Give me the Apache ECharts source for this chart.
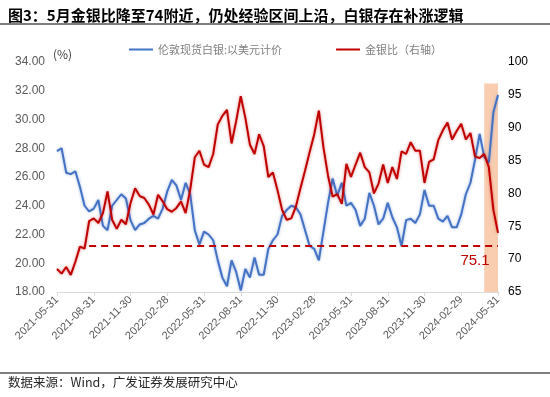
<!DOCTYPE html>
<html>
<head>
<meta charset="utf-8">
<script src="https://cdn.jsdelivr.net/npm/echarts@6/dist/echarts.min.js"></script>
<style>
  html, body { margin: 0; padding: 0; background: #fff; }
  #main { width: 550px; height: 397px; }
</style>
</head>
<body>
<div id="main"></div>
<script>
// 季度末日期（横轴标签）
var quarterEnds = ['2021-05-31', '2021-08-31', '2021-11-30', '2022-02-28', '2022-05-31', '2022-08-31',
    '2022-11-30', '2023-02-28', '2023-05-31', '2023-08-31', '2023-11-30', '2024-02-29', '2024-05-31'];
var stepsPerQuarter = 8;

// 伦敦现货白银:以美元计价（左轴）
var silver = [
    27.8, 28.0, 26.3, 26.2, 26.4, 25.3, 24.0, 23.6,
    23.8, 24.4, 22.6, 22.3, 24.0, 24.4, 24.8, 24.5,
    23.0, 22.3, 22.7, 22.8, 23.1, 23.3, 23.1, 23.8,
    25.0, 25.8, 25.4, 24.4, 25.6, 24.8, 22.3, 21.3,
    22.2, 22.0, 21.6, 20.2, 19.0, 18.4, 20.2, 19.4,
    18.1, 19.6, 19.0, 20.4, 19.2, 19.2, 21.0, 21.6,
    22.0, 23.3, 23.7, 24.0, 23.9, 23.4, 22.3, 21.2,
    21.0, 20.2, 22.2, 24.2, 25.9, 24.7, 25.6, 24.0,
    24.2, 23.7, 22.6, 23.1, 24.9, 24.0, 22.7, 23.1,
    24.2, 23.2, 22.5, 21.2, 23.0, 23.1, 22.8, 23.4,
    25.1, 24.0, 24.0, 23.1, 22.9, 23.3, 22.5, 22.5,
    23.4, 24.8, 25.6, 27.2, 29.0, 27.4, 27.0, 30.5,
    31.7
];

// 金银比（右轴）
var ratio = [
    68.5, 67.8, 68.8, 67.6, 69.6, 71.9, 71.6, 75.8,
    76.2, 75.5, 77.0, 80.3, 76.0, 74.6, 76.0, 75.3,
    78.5, 80.8, 79.6, 79.3, 78.3, 76.8, 79.8, 78.8,
    77.6, 77.2, 77.8, 78.8, 77.0, 80.6, 85.5, 86.5,
    84.4, 84.0, 86.0, 90.5, 91.8, 92.7, 87.6, 91.0,
    94.8, 91.5, 87.4, 86.0, 89.0, 87.2, 82.5, 83.2,
    80.5, 77.5, 76.0, 76.2, 78.0, 80.8, 83.5, 86.3,
    89.0, 92.6, 87.0, 82.7, 79.5, 79.9, 78.4, 84.5,
    82.5, 84.4, 86.2, 84.0, 83.2, 80.0, 81.5, 84.4,
    81.6, 84.0, 82.2, 86.4, 86.0, 87.8, 86.5, 86.5,
    81.6, 84.8, 85.2, 88.1, 89.6, 90.8, 88.2, 89.5,
    90.6, 88.2, 89.2, 85.6, 85.4, 86.0, 84.0, 77.5,
    74.0
];

// 经验区间上沿（右轴）与标注
var ratioLine = 72;
var lineStartIdx = 7;
var ratioNote = '75.1';
var highlightStartIdx = 93;
var highlightTop = 32.5;

// 由季度末日期生成横轴类目
function pad(n) { return n < 10 ? '0' + n : '' + n; }
function fmt(d) { return d.getFullYear() + '-' + pad(d.getMonth() + 1) + '-' + pad(d.getDate()); }
var dates = [];
for (var q = 0; q < quarterEnds.length - 1; q++) {
    var a = new Date(quarterEnds[q] + 'T00:00:00').getTime();
    var b = new Date(quarterEnds[q + 1] + 'T00:00:00').getTime();
    dates.push(quarterEnds[q]);
    for (var s = 1; s < stepsPerQuarter; s++) {
        dates.push(fmt(new Date(a + (b - a) * s / stepsPerQuarter)));
    }
}
dates.push(quarterEnds[quarterEnds.length - 1]);

var cjk = '"Noto Sans CJK SC", sans-serif';
var latin = '"Liberation Sans", Arial, sans-serif';

var myChart = echarts.init(document.getElementById('main'));
var option = {
    animation: false,
    title: {
        text: '图3：5月金银比降至74附近，仍处经验区间上沿，白银存在补涨逻辑',
        left: 3,
        top: 3,
        textStyle: { fontSize: 15, fontWeight: 'bold', color: '#000', fontFamily: cjk }
    },
    legend: {
        left: 124,
        top: 39,
        icon: 'rect',
        itemWidth: 24,
        itemHeight: 2,
        itemGap: 54,
        textStyle: { color: '#7f7f7f', fontSize: 11, fontFamily: cjk },
        data: ['伦敦现货白银:以美元计价', '金银比（右轴）']
    },
    grid: { left: 57, right: 52, top: 62, bottom: 105 },
    xAxis: {
        type: 'category',
        data: dates,
        boundaryGap: false,
        axisLine: { lineStyle: { color: '#d9d9d9' } },
        axisTick: { interval: stepsPerQuarter - 1, length: 4, lineStyle: { color: '#d9d9d9' } },
        axisLabel: {
            interval: stepsPerQuarter - 1,
            rotate: 45,
            color: '#595959',
            fontSize: 11,
            fontFamily: latin,
            margin: 6
        },
        splitLine: { show: false }
    },
    yAxis: [{
        type: 'value',
        min: 18,
        max: 34,
        interval: 2,
        name: '(%)',
        nameLocation: 'end',
        nameGap: 2,
        nameTextStyle: { color: '#404040', fontSize: 12, fontFamily: cjk, align: 'left', padding: [0, 0, 0, -4] },
        axisLine: { show: false },
        axisTick: { show: false },
        splitLine: { show: false },
        axisLabel: {
            color: '#595959',
            fontSize: 12,
            fontFamily: latin,
            margin: 12,
            formatter: function (v) { return v.toFixed(2); }
        }
    }, {
        type: 'value',
        min: 65,
        max: 100,
        interval: 5,
        position: 'right',
        axisLine: { show: false },
        axisTick: { show: false },
        splitLine: { show: false },
        axisLabel: { color: '#000', fontSize: 12, fontFamily: latin, margin: 10 }
    }],
    series: [{
        name: '伦敦现货白银:以美元计价',
        type: 'line',
        yAxisIndex: 0,
        data: silver,
        showSymbol: false,
        color: '#4472C4',
        lineStyle: { width: 2, color: '#4472C4', shadowColor: 'rgba(68,114,196,0.55)', shadowBlur: 3 },
        z: 3,
        markArea: {
            silent: true,
            itemStyle: { color: 'rgba(247,190,150,0.75)' },
            data: [[{ xAxis: highlightStartIdx, yAxis: 18 }, { xAxis: dates.length - 1, yAxis: highlightTop }]]
        }
    }, {
        name: '金银比（右轴）',
        type: 'line',
        yAxisIndex: 1,
        data: ratio,
        showSymbol: false,
        color: '#C00000',
        lineStyle: { width: 2, color: '#C00000', shadowColor: 'rgba(192,0,0,0.5)', shadowBlur: 3 },
        z: 4,
        markLine: {
            silent: true,
            symbol: 'none',
            label: { show: false },
            lineStyle: { color: '#C00000', type: [7, 5], width: 2 },
            data: [[{ coord: [lineStartIdx, ratioLine] }, { coord: [dates.length - 1, ratioLine] }]]
        },
        markPoint: {
            silent: true,
            symbol: 'circle',
            symbolSize: 0,
            label: {
                show: true,
                position: 'inside',
                formatter: ratioNote,
                color: '#C00000',
                fontSize: 15,
                fontFamily: latin
            },
            data: [{ coord: [91, 69.7] }]
        }
    }],
    graphic: [{
        type: 'line',
        shape: { x1: 0, y1: 24, x2: 550, y2: 24 },
        style: { stroke: '#7f7f7f', lineWidth: 2 }
    }, {
        type: 'line',
        shape: { x1: 0, y1: 373, x2: 550, y2: 373 },
        style: { stroke: '#7f7f7f', lineWidth: 2 }
    }, {
        type: 'text',
        left: 8,
        top: 376,
        style: { text: '数据来源：Wind，广发证券发展研究中心', fill: '#262626', font: '12.5px "Noto Sans CJK SC", sans-serif' }
    }]
};

myChart.setOption(option);
</script>
</body>
</html>
